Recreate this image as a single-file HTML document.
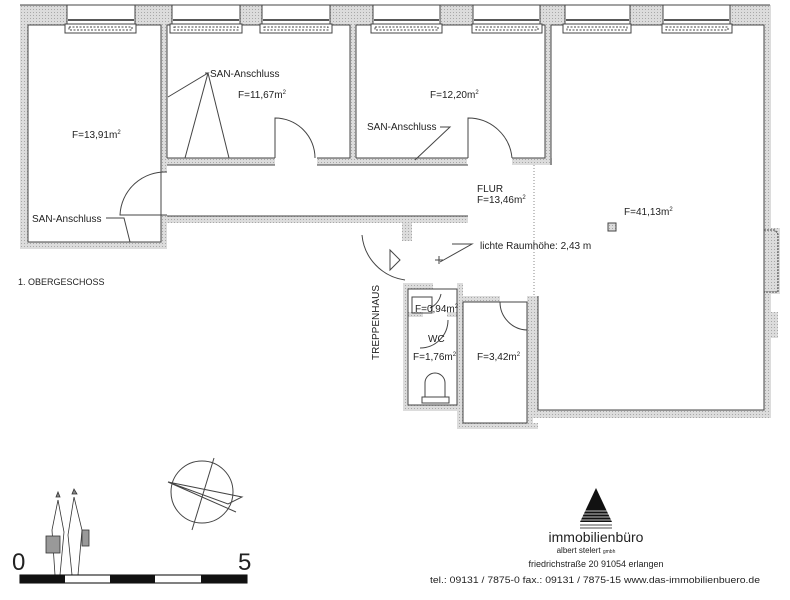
<!DOCTYPE html>
<html><head><meta charset="utf-8"><style>
body{margin:0;background:#fff;width:790px;height:600px;overflow:hidden}
svg{display:block}
text{font-family:"Liberation Sans",sans-serif;fill:#222}
</style></head><body>
<svg width="790" height="600" viewBox="0 0 790 600" xmlns="http://www.w3.org/2000/svg">
<defs>
<pattern id="h" width="3" height="3" patternUnits="userSpaceOnUse"><rect width="3" height="3" fill="#dcdcdc"/><rect width="1" height="1" fill="#a8a8a8"/></pattern>
</defs>
<g fill="url(#h)" stroke="none">
<rect x="20" y="5" width="750" height="20"/>
<rect x="20" y="5" width="8" height="244"/>
<rect x="20" y="242" width="146" height="7"/>
<rect x="161" y="22" width="6" height="150"/>
<rect x="161" y="215" width="6" height="34"/>
<rect x="161" y="158" width="114" height="7"/>
<rect x="317" y="158" width="150" height="7"/>
<rect x="512" y="158" width="40" height="7"/>
<rect x="350" y="22" width="6" height="140"/>
<rect x="545" y="22" width="6" height="140"/>
<rect x="161" y="216" width="307" height="7"/>
<rect x="402" y="223" width="10" height="18"/>
<rect x="764" y="5" width="7" height="413"/>
<rect x="770" y="228" width="10" height="66"/>
<rect x="770" y="312" width="8" height="26"/>
<rect x="532" y="410" width="239" height="8"/>
<rect x="532" y="296" width="6" height="120"/>
<rect x="403" y="283" width="5" height="127"/>
<rect x="403" y="283" width="30" height="6"/>
<rect x="457" y="283" width="6" height="145"/>
<rect x="403" y="405" width="60" height="6"/>
<rect x="403" y="312" width="20" height="5"/>
<rect x="447" y="312" width="12" height="5"/>
<rect x="462" y="296" width="38" height="6"/>
<rect x="457" y="423" width="81" height="6"/>
<rect x="527" y="296" width="6" height="132"/>
</g>
<g fill="none" stroke="#444" stroke-width="1">
<line x1="20" y1="5" x2="770" y2="5"/>
<rect x="28" y="25" width="133" height="217"/>
<polyline points="167,158 167,25 350,25 350,158 317,158"/>
<line x1="167" y1="158" x2="275" y2="158"/>
<polyline points="356,158 356,25 545,25 545,158 512,158"/>
<line x1="356" y1="158" x2="468" y2="158"/>
<polyline points="551,165 551,25 764,25 764,410 538,410 538,296"/>
<line x1="167" y1="165" x2="275" y2="165"/>
<line x1="317" y1="165" x2="468" y2="165"/>
<line x1="167" y1="216" x2="468" y2="216"/>
<line x1="534" y1="165" x2="534" y2="296" stroke-dasharray="1,2" stroke="#888"/>
<rect x="408" y="289" width="49" height="116"/>
<rect x="463" y="302" width="64" height="121"/>
<path d="M275,158 L275,118 A40,40 0 0 1 315,158"/>
<path d="M468,158 L468,118 A44,44 0 0 1 512,158"/>
<path d="M167,172 A45,45 0 0 0 120,215 L167,215"/>
<path d="M362,235 A50,50 0 0 0 405,280"/>
<path d="M500,302 A28,28 0 0 0 527,330 L527,302"/>
<path d="M441,294 A20,20 0 0 1 430,308"/>
<path d="M448,320 A28,28 0 0 1 420,348"/>
<g fill="#fff">
<rect x="67" y="5" width="68" height="20"/><rect x="172" y="5" width="68" height="20"/><rect x="262" y="5" width="68" height="20"/><rect x="373" y="5" width="67" height="20"/><rect x="473" y="5" width="67" height="20"/><rect x="565" y="5" width="65" height="20"/><rect x="663" y="5" width="67" height="20"/>
<rect x="65" y="24" width="71" height="9"/><rect x="170" y="24" width="72" height="9"/><rect x="260" y="24" width="72" height="9"/><rect x="371" y="24" width="71" height="9"/><rect x="472" y="24" width="70" height="9"/><rect x="563" y="24" width="68" height="9"/><rect x="662" y="24" width="70" height="9"/>
</g>
<g stroke-dasharray="2,1.5">
<rect x="69" y="27" width="63" height="3"/><rect x="174" y="27" width="64" height="3"/><rect x="264" y="27" width="64" height="3"/><rect x="375" y="27" width="63" height="3"/><rect x="476" y="27" width="62" height="3"/><rect x="567" y="27" width="60" height="3"/><rect x="666" y="27" width="62" height="3"/>
</g>
<g stroke="#222" stroke-width="1.5">
<line x1="68" y1="20" x2="134" y2="20"/><line x1="173" y1="20" x2="239" y2="20"/><line x1="263" y1="20" x2="329" y2="20"/><line x1="374" y1="20" x2="439" y2="20"/><line x1="474" y1="20" x2="539" y2="20"/><line x1="566" y1="20" x2="629" y2="20"/><line x1="664" y1="20" x2="729" y2="20"/>
</g>
<polyline points="764,230 775,230 778,234 778,292 764,292" stroke-dasharray="2,1"/>
<polyline points="205,73 208,73 168,97"/>
<line x1="208" y1="73" x2="185" y2="158"/>
<line x1="208" y1="73" x2="229" y2="158"/>
<polyline points="440,127 450,127 415,160"/>
<polyline points="106,218 124,218 130,242"/>
<polyline points="452,244 472,244 440,262"/>
<path d="M435,260 l8,0 M439,256 l0,8"/>
<rect x="608" y="223" width="8" height="8" fill="url(#h)"/>
<polygon points="390,250 390,270 400,260"/>
<rect x="412" y="297" width="20" height="16"/>
<path d="M425,397 L425,383 A10,10 0 0 1 445,383 L445,397"/><rect x="422" y="397" width="27" height="6"/>
<circle cx="202" cy="492" r="31"/>
<line x1="214" y1="458" x2="192" y2="530"/>
<polyline points="168,482 242,497 228,504 168,482 236,512"/>
</g>
<g font-size="10">
<text x="210" y="77">SAN-Anschluss</text>
<text x="238" y="98">F=11,67m<tspan font-size="6" dy="-4">2</tspan></text>
<text x="72" y="138">F=13,91m<tspan font-size="6" dy="-4">2</tspan></text>
<text x="430" y="98">F=12,20m<tspan font-size="6" dy="-4">2</tspan></text>
<text x="367" y="130">SAN-Anschluss</text>
<text x="32" y="222">SAN-Anschluss</text>
<text x="477" y="192">FLUR</text>
<text x="477" y="203">F=13,46m<tspan font-size="6" dy="-4">2</tspan></text>
<text x="624" y="215">F=41,13m<tspan font-size="6" dy="-4">2</tspan></text>
<text x="480" y="249">lichte Raumhöhe: 2,43 m</text>
<text x="18" y="285" font-size="9">1. OBERGESCHOSS</text>
<text x="415" y="312">F=0,94m<tspan font-size="6" dy="-4">2</tspan></text>
<text x="428" y="342">WC</text>
<text x="413" y="360">F=1,76m<tspan font-size="6" dy="-4">2</tspan></text>
<text x="477" y="360">F=3,42m<tspan font-size="6" dy="-4">2</tspan></text>
<text transform="translate(379,360) rotate(-90)" font-size="10">TREPPENHAUS</text>
</g>
<g stroke="#333" fill="none" stroke-width="0.8">
<path d="M58,500 L52,530 L55,575 M58,500 L64,532 L60,575 M74,497 L68,535 L72,575 M74,497 L82,530 L78,575"/>
<polygon points="56,497 60,497 58,492" fill="#888"/><polygon points="72,494 77,494 74,489" fill="#888"/>
<rect x="46" y="536" width="14" height="17" fill="#999"/>
<rect x="82" y="530" width="7" height="16" fill="#999"/>
</g>
<text x="12" y="570" font-size="24">0</text>
<text x="238" y="570" font-size="24">5</text>
<rect x="20" y="575" width="227" height="8" fill="#fff" stroke="#000"/>
<rect x="20" y="575" width="45" height="8" fill="#111"/><rect x="110" y="575" width="45" height="8" fill="#111"/><rect x="201" y="575" width="46" height="8" fill="#111"/>
<polygon points="596,488 580,522 612,522" fill="#111"/>
<g stroke="#fff" stroke-width="0.8"><line x1="580" y1="511" x2="612" y2="511"/><line x1="580" y1="514" x2="612" y2="514"/><line x1="580" y1="517" x2="612" y2="517"/><line x1="580" y1="520" x2="612" y2="520"/></g>
<g stroke="#111" stroke-width="0.8"><line x1="580" y1="525" x2="612" y2="525"/><line x1="580" y1="528" x2="612" y2="528"/></g>
<text x="596" y="542" font-size="14" text-anchor="middle">immobilienbüro</text>
<text x="586" y="553" font-size="8" text-anchor="middle">albert stelert <tspan font-size="5">gmbh</tspan></text>
<text x="596" y="567" font-size="9" text-anchor="middle">friedrichstraße 20   91054 erlangen</text>
<text x="430" y="583" font-size="9" textLength="330" lengthAdjust="spacingAndGlyphs">tel.: 09131 / 7875-0   fax.: 09131 / 7875-15   www.das-immobilienbuero.de</text>
</svg>
</body></html>
